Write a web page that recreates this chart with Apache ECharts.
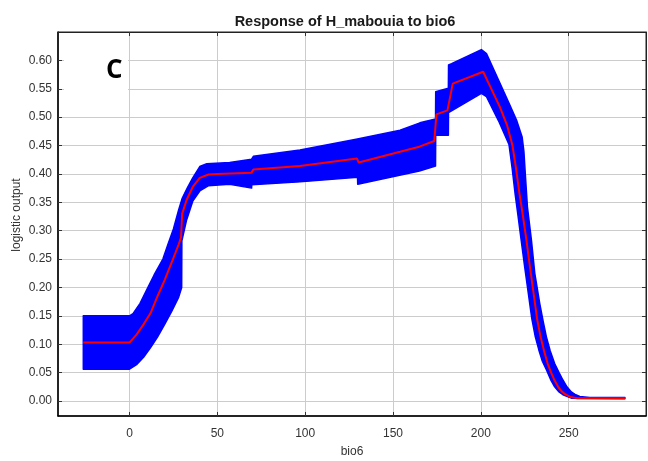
<!DOCTYPE html>
<html>
<head>
<meta charset="utf-8">
<script src="https://cdn.jsdelivr.net/npm/echarts@6/dist/echarts.min.js"></script>
<style>html,body{margin:0;padding:0;background:#fff;}#c{width:648px;height:461px;}</style>
</head>
<body>
<div id="c"></div>
<script>
const titleText = 'Response of H_mabouia to bio6';
const panelLabel = 'C';
const xName = 'bio6';
const yName = 'logistic output';
const xTicks = [0, 50, 100, 150, 200, 250];
const yTicks = [0, 0.05, 0.10, 0.15, 0.20, 0.25, 0.30, 0.35, 0.40, 0.45, 0.50, 0.55, 0.60];

const meanX = [-26.3, 0, 4, 8, 12, 16, 20, 24, 28, 29.3, 30, 32.5, 36, 40, 45, 50, 69.5, 70.5, 97, 129.5, 130.5, 154, 165, 173.5, 174.7, 181, 184, 201.3, 205, 210.8, 215, 218, 220, 222, 224, 226, 228, 230, 232, 234, 236, 238, 240, 242, 244, 246, 248, 251, 255, 282];
const meanY = [0.103, 0.103, 0.117, 0.135, 0.155, 0.185, 0.213, 0.244, 0.276, 0.288, 0.330, 0.354, 0.377, 0.393, 0.399, 0.400, 0.402, 0.408, 0.414, 0.427, 0.420, 0.439, 0.448, 0.458, 0.505, 0.512, 0.559, 0.580, 0.556, 0.518, 0.485, 0.450, 0.410, 0.365, 0.325, 0.282, 0.235, 0.190, 0.145, 0.113, 0.088, 0.066, 0.050, 0.036, 0.025, 0.017, 0.012, 0.007, 0.005, 0.005];

const upperX = [-26.3, 0, 2, 6, 10, 14, 19, 22, 25, 28, 30, 33, 36, 40, 44, 57, 69.5, 70.5, 97, 129, 154, 165.3, 174.2, 174.3, 181.5, 181.6, 183.3, 200.3, 203.2, 210, 216, 220.3, 223.5, 224.5, 225.3, 226.5, 228.8, 230.7, 233.5, 235.5, 237.3, 239.5, 242, 244.5, 246.7, 249, 251.5, 254, 256.3, 262, 282];
const upperY = [0.150, 0.150, 0.154, 0.172, 0.197, 0.222, 0.250, 0.277, 0.303, 0.337, 0.357, 0.376, 0.393, 0.413, 0.418, 0.420, 0.426, 0.431, 0.442, 0.461, 0.477, 0.490, 0.497, 0.545, 0.551, 0.592, 0.594, 0.619, 0.612, 0.566, 0.525, 0.495, 0.465, 0.440, 0.400, 0.342, 0.283, 0.225, 0.172, 0.140, 0.113, 0.088, 0.066, 0.050, 0.037, 0.025, 0.016, 0.011, 0.008, 0.006, 0.006];

const lowerX = [-26.3, 0, 4, 8, 12, 16, 20, 24, 28, 29.7, 29.8, 32.5, 36, 40, 44.8, 57, 69.5, 69.6, 97, 129.8, 129.9, 165, 174.2, 174.3, 181.5, 181.6, 200.3, 203.2, 210, 216, 217.8, 219.5, 221.2, 223, 225, 227, 229, 231, 233, 235, 237.3, 240, 242, 244.5, 246.7, 251.5, 282];
const lowerY = [0.056, 0.056, 0.064, 0.077, 0.094, 0.113, 0.135, 0.158, 0.183, 0.200, 0.282, 0.319, 0.352, 0.370, 0.379, 0.382, 0.375, 0.381, 0.386, 0.394, 0.382, 0.405, 0.414, 0.468, 0.468, 0.508, 0.542, 0.536, 0.494, 0.452, 0.410, 0.365, 0.325, 0.282, 0.235, 0.190, 0.145, 0.113, 0.090, 0.070, 0.055, 0.036, 0.025, 0.016, 0.011, 0.005, 0.004];

const chart = echarts.init(document.getElementById('c'), null, {renderer: 'canvas'});
const FONT = '"Liberation Sans", Arial, sans-serif';
const gridColor = '#cccccc';

const meanData = meanX.map((x, i) => [x, meanY[i]]);

const option = {
  animation: false,
  backgroundColor: '#ffffff',
  title: {
    text: titleText, left: 340, top: 9, textAlign: 'center',
    textStyle: {fontFamily: FONT, fontWeight: 'bold', fontSize: 14.5, color: '#1a1a1a'}
  },
  grid: {left: 58, right: 2, top: 32, bottom: 45, outerBoundsMode: 'none', containLabel: false,
    show: true, borderColor: '#222', borderWidth: 1, backgroundColor: '#fff'},
  xAxis: [{
    type: 'value', min: -40.7, max: 294,
    name: xName, nameLocation: 'middle', nameGap: 30, nameMoveOverlap: false,
    nameTextStyle: {fontFamily: FONT, fontSize: 12, color: '#333'},
    axisLine: {show: true, onZero: false, lineStyle: {color: '#000', width: 1.5}},
    axisTick: {show: true, inside: true, length: 4, customValues: xTicks, lineStyle: {color: '#333'}},
    axisLabel: {customValues: xTicks, margin: 12, fontFamily: FONT, fontSize: 12, color: '#333'},
    splitLine: {show: true, lineStyle: {color: gridColor, width: 1}}
  }, {
    type: 'value', min: -40.7, max: 294, position: 'top',
    axisLine: {show: true, onZero: false, lineStyle: {color: '#222'}},
    axisTick: {show: true, inside: true, length: 4, customValues: xTicks, lineStyle: {color: '#333'}},
    axisLabel: {show: false}, splitLine: {show: false}
  }],
  yAxis: [{
    type: 'value', min: -0.0264, max: 0.65,
    name: yName, nameLocation: 'middle', nameGap: 35, nameRotate: 90, nameMoveOverlap: false,
    nameTextStyle: {fontFamily: FONT, fontSize: 12, color: '#333', padding: [0, 0, 0, 18]},
    axisLine: {show: true, onZero: false, lineStyle: {color: '#000', width: 1.5}},
    axisTick: {show: true, inside: true, length: 4, customValues: yTicks, lineStyle: {color: '#333'}},
    axisLabel: {customValues: yTicks, margin: 6, fontFamily: FONT, fontSize: 12, color: '#333',
      formatter: v => v.toFixed(2)},
    splitLine: {show: true, lineStyle: {color: gridColor, width: 1}}
  }, {
    type: 'value', min: -0.0264, max: 0.65, position: 'right',
    axisLine: {show: true, onZero: false, lineStyle: {color: '#222'}},
    axisTick: {show: true, inside: true, length: 4, customValues: yTicks, lineStyle: {color: '#333'}},
    axisLabel: {show: false}, splitLine: {show: false}
  }],
  graphic: [
    {type: 'rect', left: 64, top: 36, shape: {width: 64, height: 64}, style: {fill: '#ffffff'}, z: 5},
    {type: 'text', left: 106, top: 58, style: {text: panelLabel, font: 'bold 26px "Open Sans", "Liberation Sans", sans-serif', fill: '#000'}, z: 6}
  ],
  series: [
    {
      type: 'custom', xAxisIndex: 0, yAxisIndex: 0, silent: true,
      data: [[0, 0]],
      renderItem: function (params, api) {
        const pts = [];
        for (let i = 0; i < upperX.length; i++) pts.push(api.coord([upperX[i], upperY[i]]));
        for (let i = lowerX.length - 1; i >= 0; i--) pts.push(api.coord([lowerX[i], lowerY[i]]));
        return {type: 'polygon', shape: {points: pts, smooth: 0}, style: {fill: '#0000ff', stroke: '#0000ff', lineWidth: 1.5, lineJoin: 'round'}};
      },
      z: 3
    },
    {
      type: 'line', xAxisIndex: 0, yAxisIndex: 0, data: meanData,
      showSymbol: false, symbol: 'none',
      lineStyle: {color: '#ff0000', width: 2}, z: 4
    }
  ]
};
chart.setOption(option);
</script>
</body>
</html>
